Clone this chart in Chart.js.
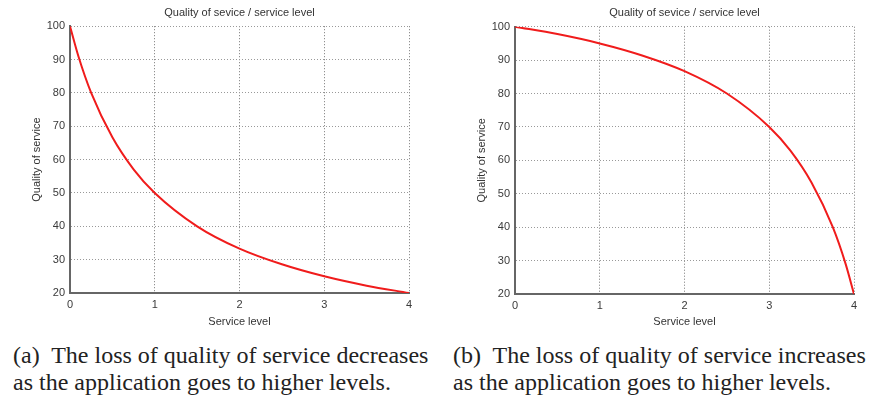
<!DOCTYPE html>
<html>
<head>
<meta charset="utf-8">
<script src="https://cdn.jsdelivr.net/npm/chart.js@4/dist/chart.umd.min.js"></script>
<style>
  html, body { margin: 0; padding: 0; background: #fff; }
  body { width: 872px; height: 403px; position: relative; overflow: hidden; }
  .panel { position: absolute; top: 0; }
  .caption {
    position: absolute; top: 342px;
    font-family: "Liberation Serif", "Times New Roman", serif;
    font-size: 24px; line-height: 27px; color: #222; white-space: pre;
  }
</style>
</head>
<body>
<div class="panel" style="left:0px"><canvas id="chartA" width="436" height="330"></canvas></div>
<div class="panel" style="left:440px"><canvas id="chartB" width="432" height="330"></canvas></div>
<div class="caption" style="left:13px">(a)  The loss of quality of service decreases
as the application goes to higher levels.</div>
<div class="caption" style="left:453px">(b)  The loss of quality of service increases
as the application goes to higher levels.</div>

<script>
// values
const levelsA = [0, 0.1, 0.25, 0.5, 0.75, 1, 1.5, 2, 2.5, 3, 3.5, 4];
const qualityA = [100, 90.9, 80, 66.7, 57.1, 50, 40, 33.3, 28.6, 25, 22.2, 20];

const levelsB = [0, 0.5, 1, 1.5, 2, 2.5, 3, 3.25, 3.5, 3.75, 3.9, 4];
const qualityB = [100, 97.8, 95, 91.4, 86.7, 80, 70, 62.9, 53.3, 40, 29.1, 20];

const xTicks = [0, 1, 2, 3, 4];
const yTicks = [20, 30, 40, 50, 60, 70, 80, 90, 100];

const chartTitle = 'Quality of sevice / service level';
const xTitle = 'Service level';
const yTitle = 'Quality of service';

const sans = '"Liberation Sans", Arial, sans-serif';

function makeChart(id, xs, ys, box) {
    const points = xs.map((x, i) => ({ x: x, y: ys[i] }));
    return new Chart(document.getElementById(id), {
        type: 'line',
        data: {
            datasets: [{
                data: points,
                borderColor: '#f01c1c',
                borderWidth: 2,
                pointRadius: 0,
                cubicInterpolationMode: 'monotone',
                fill: false
            }]
        },
        options: {
            responsive: false,
            animation: false,
            devicePixelRatio: 1,
            layout: { padding: { left: 0, right: box.padRight, top: 0, bottom: 0 } },
            plugins: {
                legend: { display: false },
                tooltip: { enabled: false },
                title: {
                    display: true,
                    text: chartTitle,
                    fullSize: false,
                    color: '#333',
                    font: { family: sans, size: 11, weight: 'normal' },
                    padding: { top: 6, bottom: box.titleBottom }
                }
            },
            scales: {
                x: {
                    type: 'linear',
                    min: xTicks[0],
                    max: xTicks[xTicks.length - 1],
                    afterBuildTicks: s => { s.ticks = xTicks.map(v => ({ value: v })); },
                    afterFit: s => { s.height = 330 - box.bottom; },
                    ticks: { color: '#3a3a3a', padding: 5, font: { family: sans, size: 11 } },
                    grid: { color: '#777', drawTicks: false, lineWidth: 1 },
                    border: { display: true, color: '#666', width: 2, dash: [1, 2] },
                    title: {
                        display: true, text: xTitle, color: '#333',
                        font: { family: sans, size: 11 },
                        padding: { top: 0, bottom: 1 }
                    }
                },
                y: {
                    type: 'linear',
                    min: yTicks[0],
                    max: yTicks[yTicks.length - 1],
                    afterBuildTicks: s => { s.ticks = yTicks.map(v => ({ value: v })); },
                    afterFit: s => { s.width = box.left; },
                    ticks: { color: '#3a3a3a', padding: 5, font: { family: sans, size: 11 } },
                    grid: { color: '#999', drawTicks: false, lineWidth: 1 },
                    border: { display: true, color: '#666', width: 2, dash: [1, 2] },
                    title: {
                        display: true, text: yTitle, color: '#333',
                        font: { family: sans, size: 11 },
                        padding: { top: box.yTitleX - 6.6, bottom: 0 }
                    }
                }
            }
        }
    });
}

makeChart('chartA', levelsA, qualityA, { left: 70, padRight: 27, bottom: 293, titleBottom: 7, yTitleX: 37 });
makeChart('chartB', levelsB, qualityB, { left: 75, padRight: 18, bottom: 294, titleBottom: 7.5, yTitleX: 42 });
</script>
</body>
</html>
